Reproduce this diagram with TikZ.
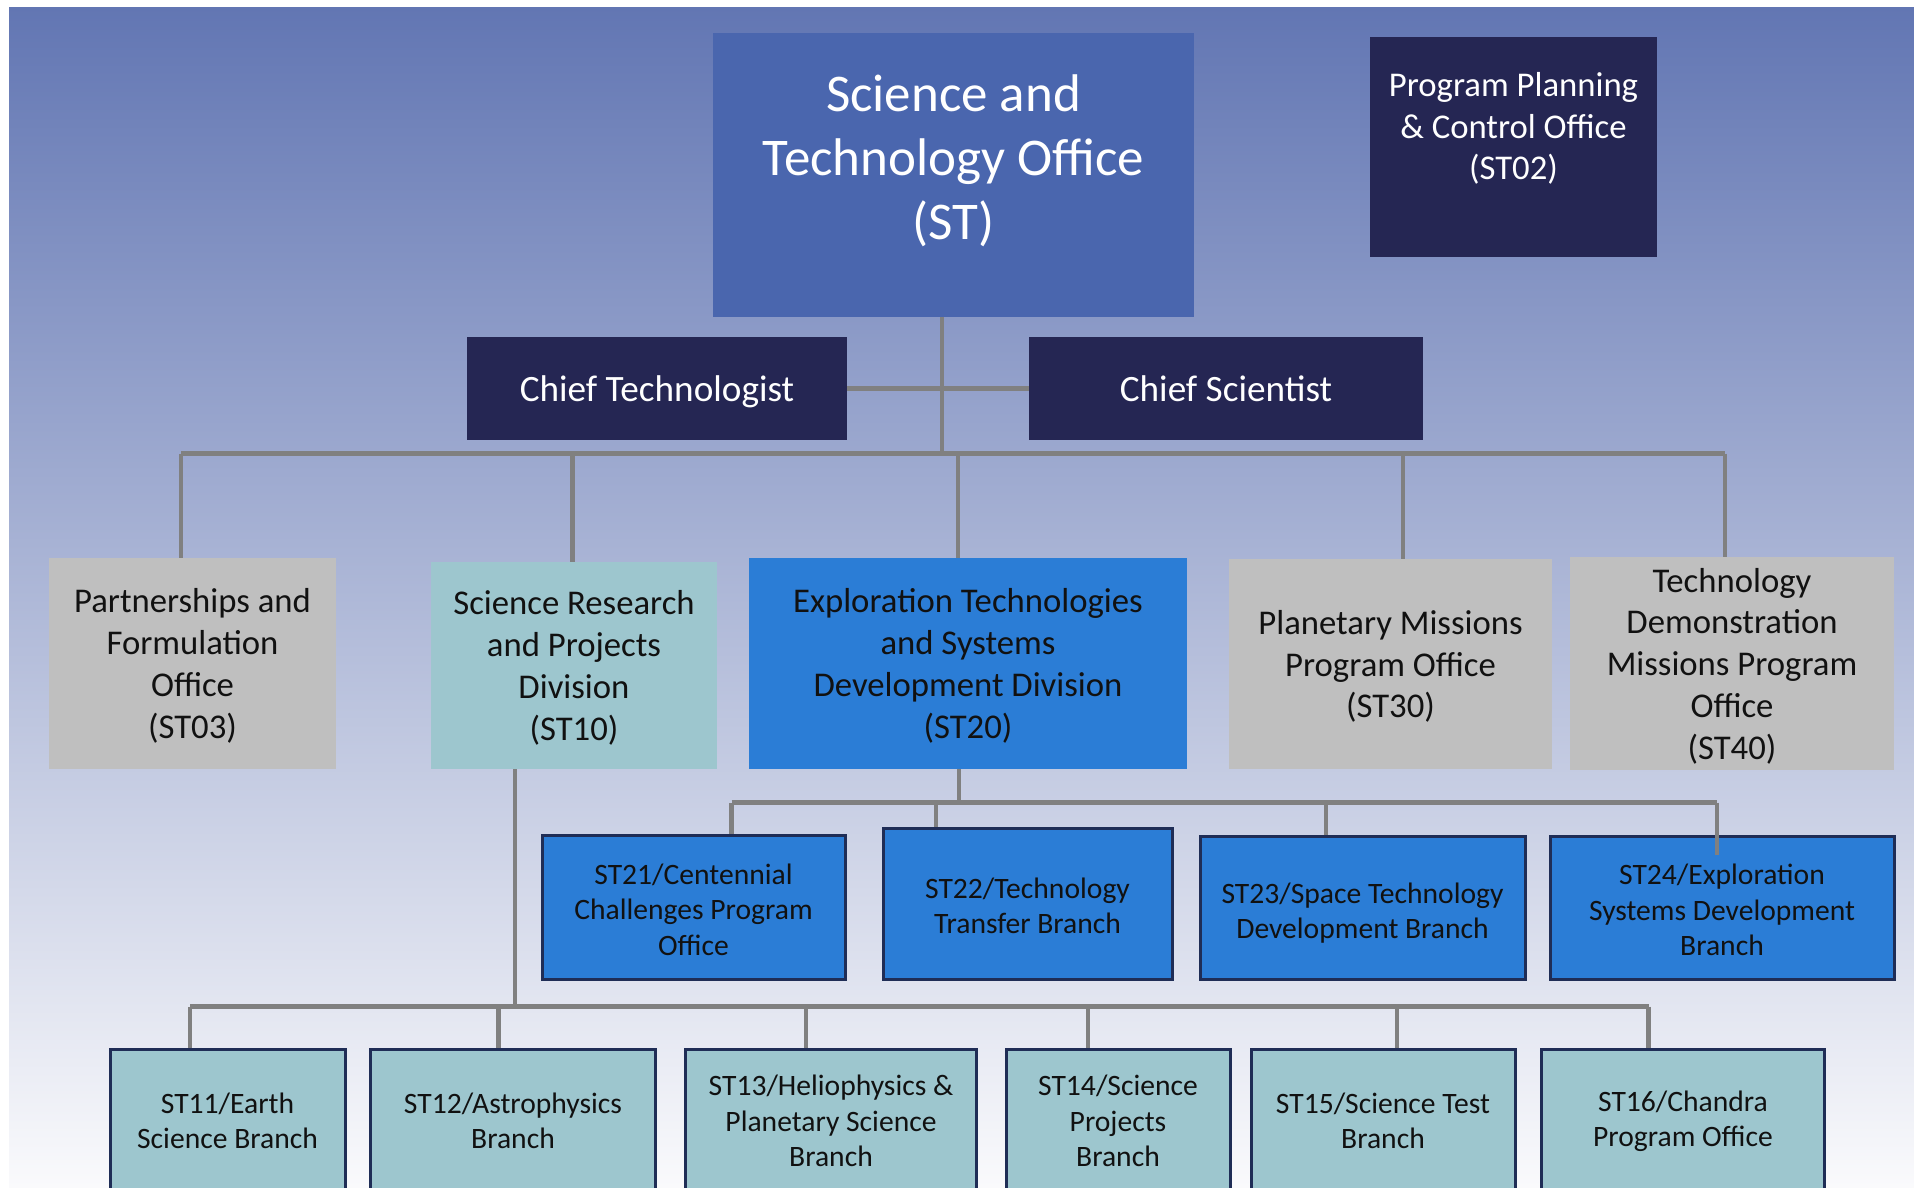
\documentclass[tikz,border=0pt]{standalone}
\usepackage{fontspec}
\setmainfont{Carlito}
\pgfdeclarelayer{bg}
\pgfsetlayers{bg,main}
\definecolor{bgtop}{RGB}{98,118,179}
\definecolor{bgmid}{RGB}{192,197,221}
\definecolor{bgbot}{RGB}{250,250,252}
\definecolor{stblue}{RGB}{74,102,174}
\definecolor{navyc}{RGB}{37,38,83}
\definecolor{greyc}{RGB}{191,191,191}
\definecolor{tealc}{RGB}{157,198,206}
\definecolor{bluec}{RGB}{43,125,214}
\definecolor{bordc}{RGB}{31,45,86}
\definecolor{lineg}{RGB}{128,128,128}
\definecolor{txt}{RGB}{17,17,17}
\newcommand\ta{\rule{0pt}{1em}}
\newcommand\tc{\rule{0pt}{1.16em}}
\newcommand\tb{\rule[-0.3em]{0pt}{0pt}}
\tikzset{
  conn/.style={draw=lineg, line width=4.5pt},
  boxbase/.style={inner sep=0pt, outer sep=0pt, align=center},
  topbox/.style={boxbase, fill=stblue},
  navybox/.style={boxbase, fill=navyc, text=white},
  rowtwo/.style={boxbase, text=txt, font=\fontsize{34.7}{41.8}\selectfont},
  greybox/.style={rowtwo, fill=greyc},
  tealbox/.style={rowtwo, fill=tealc},
  bluebox/.style={rowtwo, fill=bluec},
  subbox/.style={boxbase, draw=bordc, line width=3pt, fill=bluec, text=txt, font=\fontsize{29.6}{35.4}\selectfont},
  subteal/.style={subbox, fill=tealc},
  plain/.style={inner sep=0pt, align=center}
}
\begin{document}
\begin{tikzpicture}[x=1pt,y=-1pt]
\useasboundingbox (0,0) rectangle (1914,1187);
\clip (0,0) rectangle (1914,1187);
% top level
\node[topbox, minimum width=481pt, minimum height=284pt] (st) at (953.5,175) {};
\node[plain, text=white, font=\fontsize{53}{64}\selectfont] (sttext) at (953.5,160.5) {Science and\\Technology Office\\(ST)};
\node[navybox, minimum width=287pt, minimum height=220pt] (ppc) at (1513.5,147) {};
\node[plain, text=white, font=\fontsize{34.7}{41.5}\selectfont] (ppctext) at (1513.5,128.5) {Program Planning\\\& Control Office\\(ST02)};
\node[navybox, minimum width=380pt, minimum height=103pt, font=\fontsize{37.2}{44}\selectfont] (ct) at (657,388.5) {\ta Chief Technologist\tb};
\node[navybox, minimum width=394pt, minimum height=103pt, font=\fontsize{37.2}{44}\selectfont] (cs) at (1226,388.5) {\ta Chief Scientist\tb};
% second row
\node[greybox, minimum width=287pt, minimum height=211pt] (pf) at (192.5,663.5) {\ta Partnerships and\\Formulation\\Office\\(ST03)\tb};
\node[tealbox, minimum width=286pt, minimum height=207pt] (sr) at (574,665.5) {\ta Science Research\\and Projects\\Division\\(ST10)\tb};
\node[bluebox, minimum width=438pt, minimum height=211pt] (ex) at (968,663.5) {\ta Exploration Technologies\\and Systems\\Development Division\\(ST20)\tb};
\node[greybox, minimum width=323pt, minimum height=210pt] (pm) at (1390.5,664) {\ta Planetary Missions\\Program Office\\(ST30)\tb};
\node[greybox, minimum width=324pt, minimum height=211pt] (td) at (1732,663.5) {\ta Technology\\Demonstration\\Missions Program\\Office\\(ST40)\tb};
% ST2x
\node[subbox, minimum width=303pt, minimum height=144pt] (s21) at (693.5,907) {\tc ST21/Centennial\\Challenges Program\\Office\tb};
\node[subbox, minimum width=289pt, minimum height=151pt] (s22) at (1027.5,903.5) {\tc ST22/Technology\\Transfer Branch\tb};
\node[subbox, minimum width=325pt, minimum height=143pt] (s23) at (1362.5,908) {\tc ST23/Space Technology\\Development Branch\tb};
\node[subbox, minimum width=344pt, minimum height=143pt] (s24) at (1722,907.5) {\tc ST24/Exploration\\Systems Development\\Branch\tb};
% ST1x
\node[subteal, minimum width=235pt, minimum height=144pt] (s11) at (227.5,1121) {ST11/Earth\\Science Branch};
\node[subteal, minimum width=285.5pt, minimum height=144pt] (s12) at (513,1121) {ST12/Astrophysics\\Branch};
\node[subteal, minimum width=291pt, minimum height=144pt] (s13) at (831,1121) {ST13/Heliophysics \&\\Planetary Science\\Branch};
\node[subteal, minimum width=224pt, minimum height=144pt] (s14) at (1118,1121) {ST14/Science\\Projects\\Branch};
\node[subteal, minimum width=264pt, minimum height=144pt] (s15) at (1383,1121) {ST15/Science Test\\Branch};
\node[subteal, minimum width=283.5pt, minimum height=144pt] (s16) at (1683,1121) {ST16/Chandra\\Program Office};
% junctions
\coordinate (bus1) at (942,453.5);
\coordinate (b1l) at (181,453.5);
\coordinate (b1r) at (1725,453.5);
\coordinate (d2) at (572.5,453.5);
\coordinate (d3) at (958,453.5);
\coordinate (d4) at (1403,453.5);
\coordinate (bus2) at (959,802.5);
\coordinate (b2l) at (731.5,802.5);
\coordinate (b2a) at (936,802.5);
\coordinate (b2b) at (1326,802.5);
\coordinate (b2r) at (1717,802.5);
\coordinate (b2end) at (1717,855);
\coordinate (bus3) at (515,1006.5);
\coordinate (b3l) at (190,1006.5);
\coordinate (b3a) at (498.7,1006.5);
\coordinate (b3b) at (806,1006.5);
\coordinate (b3c) at (1088,1006.5);
\coordinate (b3d) at (1397,1006.5);
\coordinate (b3r) at (1648.5,1006.5);
\begin{pgfonlayer}{bg}
\fill[white] (0,0) rectangle (1914,1187);
\shade[top color=bgtop, middle color=bgmid, bottom color=bgbot] (9,7) rectangle (1914,1187);
\draw[conn] (st.south -| bus1) -- (bus1);
\draw[conn] (ct.east) -- (cs.west);
\draw[conn] (b1l) -- (b1r);
\draw[conn] (b1l) -- (b1l |- pf.north);
\draw[conn] (d2) -- (d2 |- sr.north);
\draw[conn] (d3) -- (d3 |- ex.north);
\draw[conn] (d4) -- (d4 |- pm.north);
\draw[conn] (b1r) -- (b1r |- td.north);
\draw[conn] (ex.south -| bus2) -- (bus2);
\draw[conn] (b2l) -- (b2r);
\draw[conn] (b2l) -- (b2l |- s21.north);
\draw[conn] (b2a) -- (b2a |- s22.north);
\draw[conn] (b2b) -- (b2b |- s23.north);
\draw[conn] (sr.south -| bus3) -- (bus3);
\draw[conn] (b3l) -- (b3r);
\draw[conn] (b3l) -- (b3l |- s11.north);
\draw[conn] (b3a) -- (b3a |- s12.north);
\draw[conn] (b3b) -- (b3b |- s13.north);
\draw[conn] (b3c) -- (b3c |- s14.north);
\draw[conn] (b3d) -- (b3d |- s15.north);
\draw[conn] (b3r) -- (b3r |- s16.north);
\end{pgfonlayer}
\draw[conn] (b2r) -- (b2end);
\end{tikzpicture}
\end{document}
